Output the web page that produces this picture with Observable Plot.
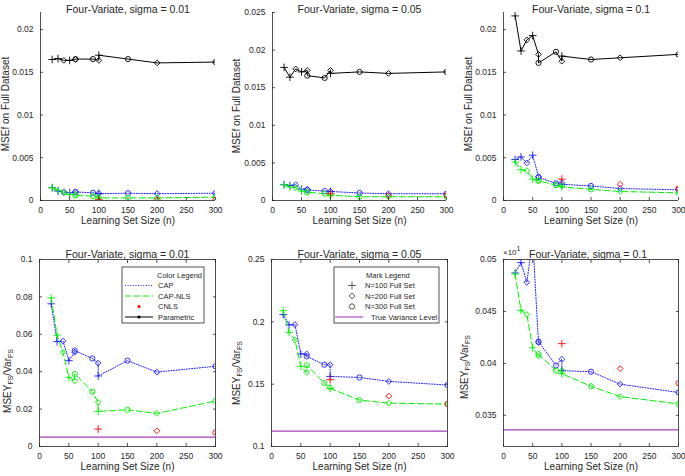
<!DOCTYPE html>
<html>
<head>
<meta charset="utf-8">
<script src="https://cdn.jsdelivr.net/npm/d3@7"></script>
<script src="https://cdn.jsdelivr.net/npm/@observablehq/plot@0.6"></script>
<style>
  html, body { margin: 0; padding: 0; background: #fff; }
  #root { position: relative; width: 685px; height: 476px; background: #fff; overflow: hidden;
          font-family: "Liberation Sans", Arial, Helvetica, sans-serif; }
  .panel { position: absolute; }
</style>
</head>
<body>
<div id="root"></div>
<script>
// ---------------- data ----------------
const learningSize = [20, 30, 40, 50, 60, 60, 90, 100, 100, 150, 200, 300];
const fullSetSize  = [100, 100, 200, 100, 200, 300, 300, 200, 100, 300, 200, 300];
const cnlsSize = [100, 200, 300];
const cnlsFull = [100, 200, 300];
const xTicks = [0, 50, 100, 150, 200, 250, 300];
const xDomain = [0, 300];

const titles = ["Four-Variate, sigma = 0.01", "Four-Variate, sigma = 0.05", "Four-Variate, sigma = 0.1"];
const xLabel = "Learning Set Size (n)";
const yLabelTop = "MSEf on Full Dataset";
const yLabelBottomParts = ["MSEY", "FS", "/Var", "FS"];
const colorLegendTitle = "Color Legend";
const colorLegendLabels = ["CAP", "CAP-NLS", "CNLS", "Parametric"];
const markLegendTitle = "Mark Legend";
const markLegendLabels = ["N=100 Full Set", "N=200 Full Set", "N=300 Full Set", "True Variance Level"];

// top row: MSEf on full dataset
const param1 = [0.0165, 0.0166, 0.0164, 0.0164, 0.0165, 0.01655, 0.01655, 0.0164, 0.0170, 0.01655, 0.0161, 0.0162];
const cap1   = [0.0015, 0.0011, 0.0010, 0.0009, 0.0010, 0.0010, 0.0009, 0.00085, 0.0008, 0.00085, 0.0008, 0.00085];
const nls1   = [0.0015, 0.0012, 0.0009, 0.0007, 0.0007, 0.0006, 0.0005, 0.0004, 0.0003, 0.0003, 0.0003, 0.0004];
const cnls1  = [0.0001, 0.0001, 0.0001];

const param2 = [0.0177, 0.0164, 0.0175, 0.0171, 0.0173, 0.0166, 0.0163, 0.0173, 0.0169, 0.0171, 0.0169, 0.0171];
const cap2   = [0.0021, 0.0020, 0.0021, 0.0015, 0.0015, 0.0014, 0.00125, 0.0012, 0.0012, 0.0010, 0.0009, 0.0009];
const nls2   = [0.0021, 0.0018, 0.0017, 0.00125, 0.0011, 0.0011, 0.0009, 0.0007, 0.0007, 0.0005, 0.0005, 0.0005];
const cnls2  = [0.0009, 0.0007, 0.0007];

const param3 = [0.0216, 0.0175, 0.0188, 0.0193, 0.0171, 0.0161, 0.0174, 0.0163, 0.0169, 0.0165, 0.0167, 0.0171];
const cap3   = [0.0048, 0.0051, 0.0044, 0.0053, 0.0028, 0.0027, 0.0020, 0.0021, 0.0019, 0.0017, 0.0014, 0.00125];
const nls3   = [0.0045, 0.0036, 0.0035, 0.0025, 0.0023, 0.0023, 0.0018, 0.0017, 0.0016, 0.0013, 0.00105, 0.0009];
const cnls3  = [0.0025, 0.0019, 0.0014];

// bottom row: MSEY_FS / Var_FS
const cap4  = [0.0763, 0.0561, 0.0564, 0.0459, 0.0504, 0.0513, 0.0471, 0.0446, 0.0377, 0.0459, 0.0398, 0.0429];
const nls4  = [0.0795, 0.0596, 0.0504, 0.0370, 0.0350, 0.0388, 0.0293, 0.0236, 0.0188, 0.0196, 0.0177, 0.0243];
const cnls4 = [0.0093, 0.0084, 0.0075];
const trueVar4 = 0.005;

const cap5  = [0.2058, 0.1975, 0.1978, 0.1742, 0.1742, 0.1723, 0.1656, 0.1656, 0.1562, 0.1554, 0.1522, 0.1493];
const nls5  = [0.2090, 0.1916, 0.1854, 0.1643, 0.1595, 0.1653, 0.1509, 0.1474, 0.1466, 0.1372, 0.1348, 0.1340];
const cnls5 = [0.1536, 0.1404, 0.1340];
const trueVar5 = 0.1123;

const cap6  = [0.0487, 0.0497, 0.0478, 0.0520, 0.0420, 0.0421, 0.0398, 0.0404, 0.0393, 0.0392, 0.0380, 0.0372];
const nls6  = [0.0486, 0.0451, 0.0447, 0.0415, 0.0407, 0.0409, 0.0393, 0.0393, 0.0390, 0.0378, 0.0368, 0.0361];
const cnls6 = [0.0419, 0.0395, 0.0381];
const trueVar6 = 0.0336;

const yTicks1 = [0, 0.005, 0.01, 0.015, 0.02];
const yTicks2 = [0, 0.005, 0.01, 0.015, 0.02, 0.025];
const yTicks4 = [0, 0.02, 0.04, 0.06, 0.08, 0.1];
const yTicks5 = [0.1, 0.15, 0.2, 0.25];
const yTicks6 = [0.035, 0.04, 0.045, 0.05];
const exponentLabel = ["×10", "1"];

// ---------------- styles ----------------
const AX = "#262626";
const TXT = "#262626";
const BLUE = "#1a1aff", GREEN = "#00f000", RED = "#ff0000", BLACK = "#000000", PURPLE = "#a83cbe";
const FONT = "Liberation Sans, Arial, Helvetica, sans-serif";
const DOTTED = "1,1.6", DASHED = "6,3";

const rows = (vals, ns = learningSize, Ns = fullSetSize) => vals.map((v, i) => ({n: ns[i], N: Ns[i], v}));

const panels = [
  {left: 0,   top: 0, width: 225, height: 235, mL: 40, mR: 10, mT: 12, mB: 35, yDomain: [0, 0.022], yTicks: yTicks1,
   title: titles[0], titleDy: -7, box: false, param: param1, cap: cap1, nls: nls1, cnls: cnls1, yLabel: "top", yLabelX: 5, yLabelY: 104},
  {left: 230, top: 0, width: 225, height: 235, mL: 42, mR: 9, mT: 12, mB: 35, yDomain: [0, 0.025], yTicks: yTicks2,
   title: titles[1], titleDy: -7, box: false, param: param2, cap: cap2, nls: nls2, cnls: cnls2, yLabel: "top", yLabelX: 6, yLabelY: 106},
  {left: 460, top: 0, width: 225, height: 235, mL: 43, mR: 7, mT: 12, mB: 35, yDomain: [0, 0.022], yTicks: yTicks1,
   title: titles[2], titleDy: -7, box: false, param: param3, cap: cap3, nls: nls3, cnls: cnls3, yLabel: "top", yLabelX: 8, yLabelY: 104},
  {left: 0,   top: 240, width: 225, height: 236, mL: 39, mR: 10, mT: 19, mB: 30, yDomain: [0, 0.1], yTicks: yTicks4,
   title: titles[0], titleDy: -8.5, box: true, cap: cap4, nls: nls4, cnls: cnls4, trueVar: trueVar4, yLabel: "bottom", yLabelX: 7, yLabelY: 141, legend: "color"},
  {left: 230, top: 240, width: 225, height: 236, mL: 41, mR: 8, mT: 19, mB: 30, yDomain: [0.1, 0.25], yTicks: yTicks5,
   title: titles[1], titleDy: -8.5, box: true, cap: cap5, nls: nls5, cnls: cnls5, trueVar: trueVar5, yLabel: "bottom", yLabelX: 6, yLabelY: 133, legend: "mark"},
  {left: 460, top: 240, width: 225, height: 236, mL: 43, mR: 7, mT: 19, mB: 30, yDomain: [0.032, 0.05], yTicks: yTicks6,
   title: titles[2], titleDy: -8.5, titleDx: -3, box: true, cap: cap6, nls: nls6, cnls: cnls6, trueVar: trueVar6, yLabel: "bottom", yLabelX: 4, yLabelY: 127, exponent: true}
];

const root = document.getElementById("root");

function seriesMarks(vals, color, dash) {
  const data = rows(vals);
  return [
    Plot.line(data, {x: "n", y: "v", stroke: color, strokeWidth: 1, strokeDasharray: dash, clip: true}),
    Plot.dot(data, {x: "n", y: "v", symbol: "N", stroke: color, fill: "none", r: 2.6, strokeWidth: 0.9, clip: true})
  ];
}

for (const p of panels) {
  const marks = [];
  if (p.trueVar != null) marks.push(Plot.ruleY([p.trueVar], {stroke: PURPLE, strokeWidth: 1.1}));
  if (p.param) marks.push(...seriesMarks(p.param, BLACK, null));
  marks.push(...seriesMarks(p.cap, BLUE, DOTTED));
  marks.push(...seriesMarks(p.nls, GREEN, DASHED));
  marks.push(Plot.dot(rows(p.cnls, cnlsSize, cnlsFull), {x: "n", y: "v", symbol: "N", stroke: RED, fill: "none", r: 2.6, strokeWidth: 0.9, clip: true}));

  if (p.box) {
    marks.push(Plot.frame({stroke: AX, strokeWidth: 0.8}));
    marks.push(Plot.axisX({anchor: "top", ticks: xTicks, tickSize: -3, tickFormat: () => "", stroke: AX, strokeWidth: 0.8, label: null}));
    marks.push(Plot.axisY({anchor: "right", ticks: p.yTicks, tickSize: -3, tickFormat: () => "", stroke: AX, strokeWidth: 0.8, label: null}));
  } else {
    marks.push(Plot.ruleX([xDomain[0]], {stroke: AX, strokeWidth: 0.8}));
    marks.push(Plot.ruleY([p.yDomain[0]], {stroke: AX, strokeWidth: 0.8}));
  }
  marks.push(Plot.axisX({anchor: "bottom", ticks: xTicks, tickSize: -3, tickPadding: 9, tickFormat: d => String(d),
                         stroke: AX, strokeWidth: 0.8, fontSize: 8.5, label: null}));
  marks.push(Plot.axisY({anchor: "left", ticks: p.yTicks, tickSize: -3, tickPadding: 10, tickFormat: d => String(d),
                         stroke: AX, strokeWidth: 0.8, fontSize: 8.5, label: null}));
  marks.push(Plot.text([p.title], {frameAnchor: "top", dy: p.titleDy, dx: p.titleDx || 0, fontSize: 10.5, fill: TXT}));
  marks.push(Plot.text([xLabel], {frameAnchor: "bottom", dy: 23, fontSize: 10, fill: TXT}));

  const svg = Plot.plot({
    width: p.width, height: p.height,
    marginLeft: p.mL, marginRight: p.mR, marginTop: p.mT, marginBottom: p.mB,
    x: {domain: xDomain, axis: null},
    y: {domain: p.yDomain, axis: null},
    symbol: {domain: [100, 200, 300], range: ["plus", "diamond2", "circle"]},
    style: {fontFamily: FONT, fontSize: "8.5px", color: TXT, background: "transparent", overflow: "visible"},
    marks
  });

  const div = document.createElement("div");
  div.className = "panel";
  div.style.left = p.left + "px";
  div.style.top = p.top + "px";
  div.appendChild(svg);
  root.appendChild(div);

  const s = d3.select(svg);
  // y axis label
  const t = s.append("text")
    .attr("transform", `translate(${p.yLabelX},${p.yLabelY}) rotate(-90)`)
    .attr("text-anchor", "middle").attr("dominant-baseline", "central")
    .attr("font-family", FONT).attr("font-size", 10).attr("fill", TXT);
  if (p.yLabel === "top") {
    t.text(yLabelTop);
  } else {
    t.append("tspan").text(yLabelBottomParts[0]);
    t.append("tspan").attr("font-size", 7).attr("dy", 2.5).text(yLabelBottomParts[1]);
    t.append("tspan").attr("dy", -2.5).text(yLabelBottomParts[2]);
    t.append("tspan").attr("font-size", 7).attr("dy", 2.5).text(yLabelBottomParts[3]);
  }

  if (p.exponent) {
    const e = s.append("text").attr("x", p.mL).attr("y", p.mT - 4).attr("text-anchor", "start")
      .attr("font-family", FONT).attr("font-size", 8).attr("fill", TXT);
    e.append("tspan").text(exponentLabel[0]);
    e.append("tspan").attr("dy", -4).attr("font-size", 7).text(exponentLabel[1]);
  }

  if (p.legend) {
    const g = s.append("g").attr("font-family", FONT).attr("font-size", 7.5).attr("fill", TXT).attr("text-anchor", "start");
    const bx = p.legend === "color" ? 122 : 104;
    const bw = p.legend === "color" ? 82 : 105;
    const by = 27, bh = 56;
    g.append("rect").attr("x", bx).attr("y", by).attr("width", bw).attr("height", bh)
      .attr("fill", "#fff").attr("stroke", AX).attr("stroke-width", 0.8);
    const rowY = [35, 45.5, 56, 66.5, 77];
    if (p.legend === "color") {
      const tx = 157;
      g.append("text").attr("x", tx).attr("y", rowY[0]).attr("dominant-baseline", "central").text(colorLegendTitle);
      const styles = [[BLUE, DOTTED], [GREEN, DASHED]];
      styles.forEach(([c, d], i) => {
        g.append("line").attr("x1", 125).attr("x2", 153).attr("y1", rowY[i + 1]).attr("y2", rowY[i + 1])
          .attr("stroke", c).attr("stroke-dasharray", d).attr("stroke-width", 1);
      });
      g.append("circle").attr("cx", 139).attr("cy", rowY[3]).attr("r", 1.6).attr("fill", RED);
      g.append("line").attr("x1", 125).attr("x2", 153).attr("y1", rowY[4]).attr("y2", rowY[4]).attr("stroke", BLACK).attr("stroke-width", 1);
      g.append("circle").attr("cx", 139).attr("cy", rowY[4]).attr("r", 1.6).attr("fill", BLACK);
      colorLegendLabels.forEach((lab, i) => {
        g.append("text").attr("x", tx + 1).attr("y", rowY[i + 1]).attr("dominant-baseline", "central").text(lab);
      });
    } else {
      const tx = 135;
      g.append("text").attr("x", tx + 1).attr("y", rowY[0]).attr("dominant-baseline", "central").text(markLegendTitle);
      const sym = [d3.symbolPlus, d3.symbolDiamond2, d3.symbolCircle];
      sym.forEach((sy, i) => {
        g.append("path").attr("d", d3.symbol(sy, 22)()).attr("transform", `translate(122,${rowY[i + 1]})`)
          .attr("fill", "none").attr("stroke", "#333").attr("stroke-width", 0.8);
      });
      g.append("line").attr("x1", 105).attr("x2", 133).attr("y1", rowY[4]).attr("y2", rowY[4]).attr("stroke", PURPLE).attr("stroke-width", 1.1);
      markLegendLabels.forEach((lab, i) => {
        g.append("text").attr("x", i === 3 ? 141 : tx).attr("y", rowY[i + 1]).attr("dominant-baseline", "central").text(lab);
      });
    }
  }
}
</script>
</body>
</html>
